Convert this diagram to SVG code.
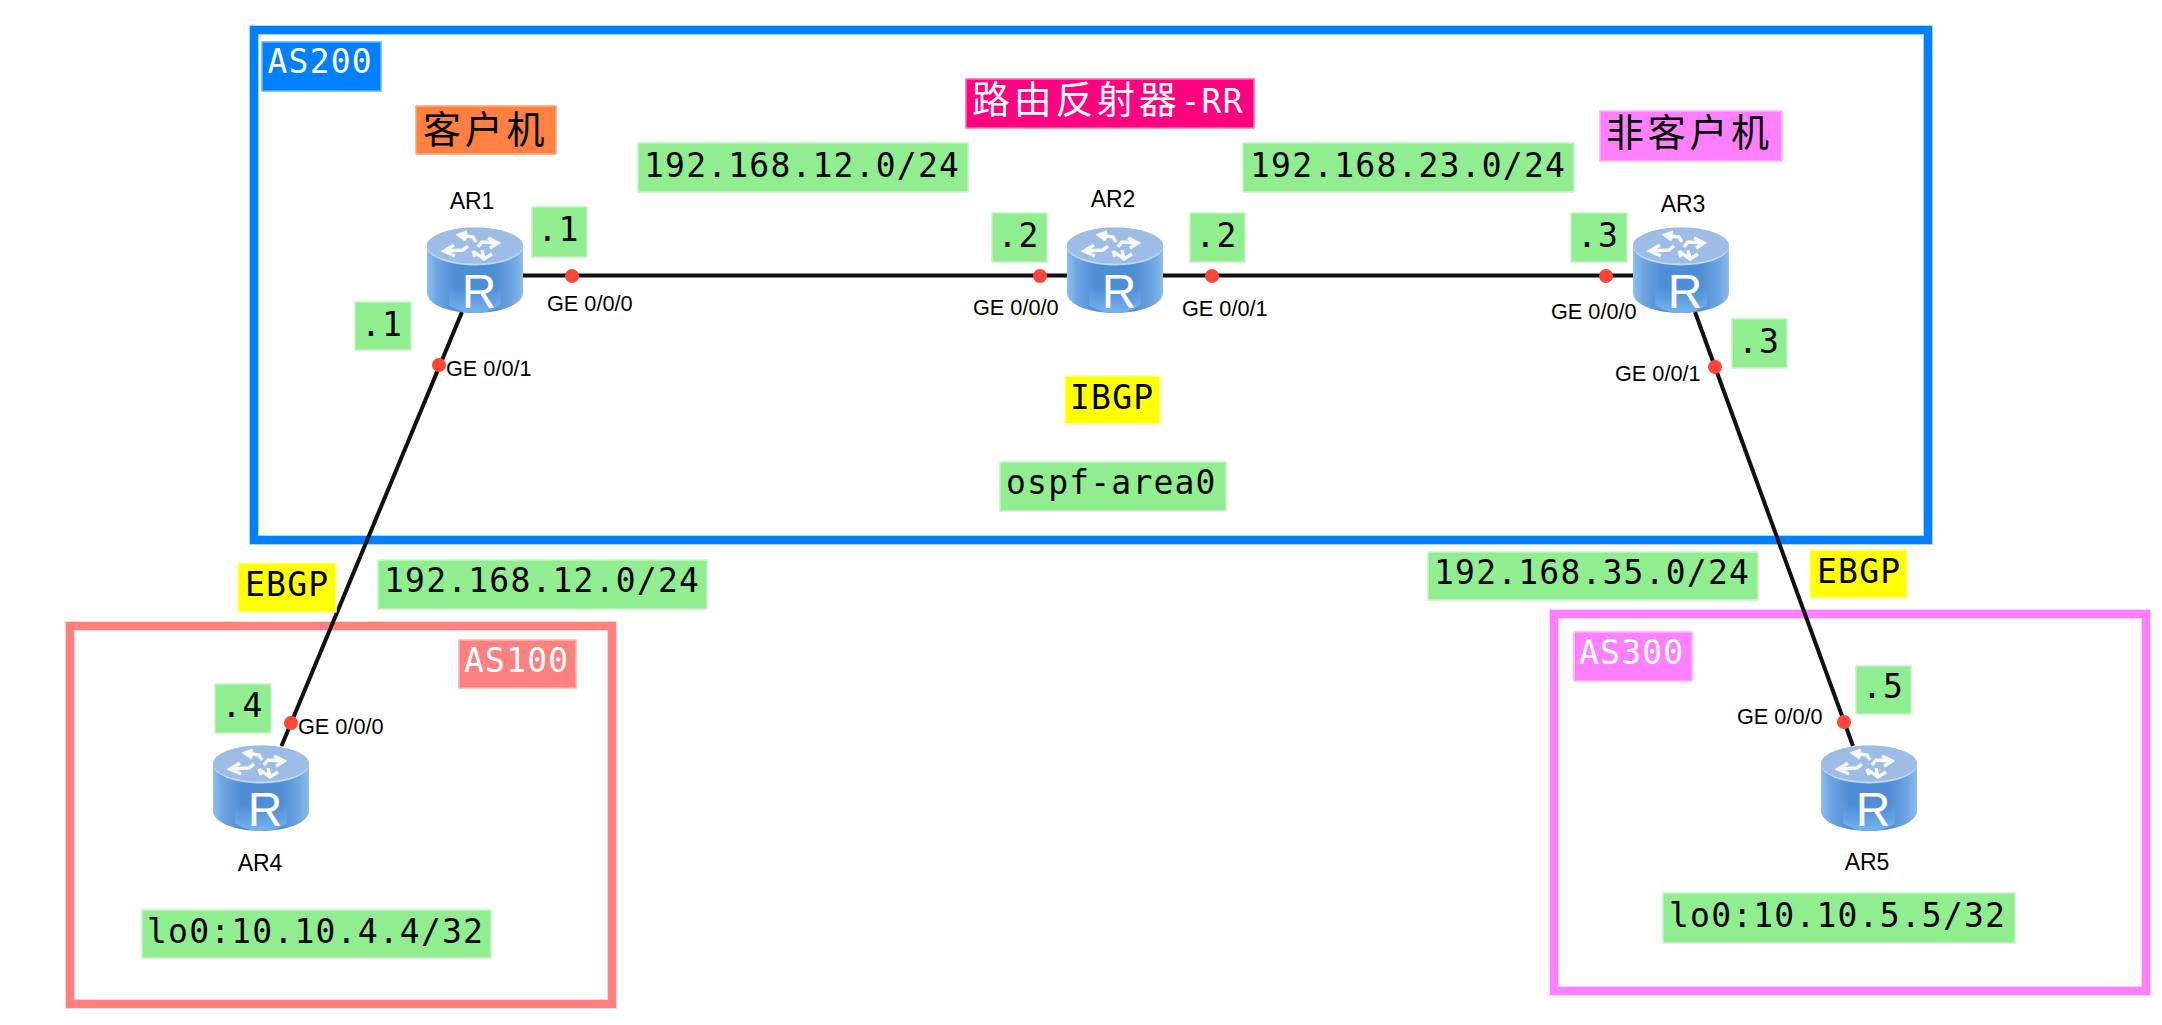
<svg xmlns="http://www.w3.org/2000/svg" width="2162" height="1025" viewBox="0 0 2162 1025">
<style>
.bx{fill:none;stroke-width:8}
.bg{fill:none;stroke-width:10;opacity:.35}
.m{font-family:"DejaVu Sans Mono","Liberation Mono",monospace;font-size:33px;letter-spacing:1.2px;fill:#000}
.c{font-family:"Noto Sans CJK SC","DejaVu Sans",sans-serif;font-size:38px;letter-spacing:3.7px;fill:#000}
.w{fill:#fff}
.g{fill:#90EE90;stroke:#c4f5c4;stroke-width:1.5}
.y{fill:#FFFF00;stroke:#ffff99;stroke-width:1.5}
.s{font-family:"Liberation Sans",Arial,sans-serif;font-size:21.700px;fill:#000}
.n{font-family:"Liberation Sans",Arial,sans-serif;font-size:23px;fill:#000;text-anchor:middle}
.r{font-family:"Liberation Sans",Arial,sans-serif;font-size:48px;fill:#fff;text-anchor:middle}
.ln{stroke:#111;stroke-width:4;fill:none}
.dot{fill:#FF4438}
.ar{fill:none;stroke:#fff;stroke-width:3.400;stroke-linejoin:miter;opacity:.92}
</style>
<defs>
<linearGradient id="body" x1="0" x2="1" y1="0" y2="0">
<stop offset="0" stop-color="#8fc0ee"/><stop offset=".1" stop-color="#6da6e2"/><stop offset=".3" stop-color="#4f8dd5"/><stop offset=".7" stop-color="#4f8dd5"/><stop offset=".9" stop-color="#6da6e2"/><stop offset="1" stop-color="#8abcec"/>
</linearGradient>
<linearGradient id="base" x1="0" x2="0" y1="0" y2="1">
<stop offset="0" stop-color="#6eaeeb" stop-opacity="0"/><stop offset="1" stop-color="#76b4f0"/>
</linearGradient>
<symbol id="router" width="96" height="86" viewBox="0 0 96 86" overflow="visible">
<path d="M0,19V66C0,77 21,86 48,86S96,77 96,66V19Z" fill="url(#body)"/>
<path d="M22,78C30,84 40,86 48,86S66,84 74,78V60H22Z" fill="url(#base)"/>
<ellipse cx="48" cy="19.500" rx="48" ry="19" fill="#c4d8f2"/>
<ellipse cx="48" cy="18.500" rx="48" ry="18" fill="#9dbce6"/>
<path class="ar" d="M40,5L32,8L39,13M32,8L46,10L49,15"/>
<path class="ar" d="M61,11L71,16L63,21M71,16L55,15L51,20"/>
<path class="ar" d="M27,18L17,24L28,29M17,24L36,23L41,19"/>
<path class="ar" d="M46,24L57,32L65,27M57,32L55,23M46,24L48,30"/>
</symbol>
</defs>
<rect width="2162" height="1025" fill="#fff"/>

<g id="areas">
<g id="area-as200"><rect class="bg" x="254" y="30" width="1674" height="510" stroke="#0080FF"/><rect class="bx" x="254" y="30" width="1674" height="510" stroke="#0080FF"/></g>
<g id="area-as100"><rect class="bg" x="70" y="626" width="542" height="378" stroke="#FF8080"/><rect class="bx" x="70" y="626" width="542" height="378" stroke="#FF8080"/></g>
<g id="area-as300"><rect class="bg" x="1554" y="614" width="592" height="377" stroke="#FF80FF"/><rect class="bx" x="1554" y="614" width="592" height="377" stroke="#FF80FF"/></g>
</g>

<g id="connectors">
<path class="ln" d="M523,275.500H1067"/>
<path class="ln" d="M1163,275.500H1633"/>
<path class="ln" d="M462,312L281.500,746"/>
<path class="ln" d="M1695,312L1853,746"/>
<circle class="dot" cx="572" cy="276" r="7"/>
<circle class="dot" cx="1040" cy="276" r="7"/>
<circle class="dot" cx="1212" cy="276" r="7"/>
<circle class="dot" cx="1606" cy="276" r="7"/>
<circle class="dot" cx="439" cy="365" r="7"/>
<circle class="dot" cx="1715" cy="367" r="7"/>
<circle class="dot" cx="291" cy="723" r="7"/>
<circle class="dot" cx="1844" cy="722" r="7"/>
<text class="s" x="547" y="311">GE 0/0/0</text>
<text class="s" x="446" y="376">GE 0/0/1</text>
<text class="s" x="973" y="315">GE 0/0/0</text>
<text class="s" x="1182" y="316">GE 0/0/1</text>
<text class="s" x="1551" y="319">GE 0/0/0</text>
<text class="s" x="1615" y="381">GE 0/0/1</text>
<text class="s" x="298" y="734">GE 0/0/0</text>
<text class="s" x="1737" y="724">GE 0/0/0</text>
</g>

<g id="AR1"><use href="#router" x="427" y="227" width="96" height="86"/><text class="r" x="479" y="308">R</text><text class="n" x="472" y="209">AR1</text></g>
<g id="AR2"><use href="#router" x="1067" y="227" width="96" height="86"/><text class="r" x="1119" y="308">R</text><text class="n" x="1113" y="207">AR2</text></g>
<g id="AR3"><use href="#router" x="1633" y="227" width="96" height="86"/><text class="r" x="1685" y="308">R</text><text class="n" x="1683" y="212">AR3</text></g>
<g id="AR4"><use href="#router" x="213" y="745" width="96" height="86"/><text class="r" x="265" y="826">R</text><text class="n" x="260" y="871">AR4</text></g>
<g id="AR5"><use href="#router" x="1821" y="745" width="96" height="86"/><text class="r" x="1873" y="826">R</text><text class="n" x="1867" y="870">AR5</text></g>

<g id="labels">
<g id="l-as200"><rect x="262" y="42" width="119" height="49" fill="#0080FF" stroke="#66b2ff" stroke-width="1.5"/><text class="m w" x="267.500" y="73">AS200</text></g>
<g id="l-client"><rect x="416" y="106" width="140" height="48" fill="#FF8040" stroke="#ffa477" stroke-width="1.5"/><text class="c" x="423" y="143">客户机</text></g>
<g id="l-rr"><rect x="966" y="79" width="288" height="49" fill="#FF007F" stroke="#ff66b2" stroke-width="1.5"/><text class="c w" x="972" y="113">路由反射器<tspan class="m w">-RR</tspan></text></g>
<g id="l-nonclient"><rect x="1600" y="111" width="182" height="50" fill="#FF80FF" stroke="#ffb3ff" stroke-width="1.5"/><text class="c" x="1606" y="146">非客户机</text></g>
<g id="l-net12"><rect class="g" x="638" y="143" width="330" height="49"/><text class="m" x="644" y="177">192.168.12.0/24</text></g>
<g id="l-net23"><rect class="g" x="1243" y="143" width="331" height="49"/><text class="m" x="1250" y="177">192.168.23.0/24</text></g>
<g id="l-ar1-1"><rect class="g" x="532" y="207" width="55" height="50"/><text class="m" x="537.500" y="241">.1</text></g>
<g id="l-ar1-2"><rect class="g" x="355" y="302" width="56" height="48"/><text class="m" x="361" y="336">.1</text></g>
<g id="l-ar2-1"><rect class="g" x="992" y="213" width="55" height="49"/><text class="m" x="997.500" y="247">.2</text></g>
<g id="l-ar2-2"><rect class="g" x="1190" y="213" width="55" height="49"/><text class="m" x="1195.500" y="247">.2</text></g>
<g id="l-ar3-1"><rect class="g" x="1571" y="213" width="56" height="49"/><text class="m" x="1577" y="247">.3</text></g>
<g id="l-ar3-2"><rect class="g" x="1732" y="319" width="55" height="49"/><text class="m" x="1738" y="353">.3</text></g>
<g id="l-ibgp"><rect class="y" x="1065" y="376" width="95" height="48"/><text class="m" x="1070" y="409">IBGP</text></g>
<g id="l-ospf"><rect class="g" x="1000" y="462" width="226" height="49"/><text class="m" x="1006" y="494">ospf-area0</text></g>
<g id="l-ebgp1"><rect class="y" x="238" y="563" width="98" height="49"/><text class="m" x="245" y="596">EBGP</text></g>
<g id="l-net12b"><rect class="g" x="378" y="560" width="329" height="49"/><text class="m" x="384" y="592">192.168.12.0/24</text></g>
<g id="l-net35"><rect class="g" x="1428" y="552" width="330" height="48"/><text class="m" x="1434" y="584">192.168.35.0/24</text></g>
<g id="l-ebgp2"><rect class="y" x="1810" y="550" width="97" height="48"/><text class="m" x="1817" y="583">EBGP</text></g>
<g id="l-as100"><rect x="459" y="640" width="117" height="48" fill="#FF8080" stroke="#ffb3b3" stroke-width="1.5"/><text class="m w" x="464" y="672">AS100</text></g>
<g id="l-as300"><rect x="1574" y="632" width="118" height="49" fill="#FF80FF" stroke="#ffb3ff" stroke-width="1.5"/><text class="m w" x="1579" y="664">AS300</text></g>
<g id="l-ar4"><rect class="g" x="215" y="684" width="56" height="49"/><text class="m" x="221.500" y="717">.4</text></g>
<g id="l-ar5"><rect class="g" x="1856" y="666" width="55" height="48"/><text class="m" x="1862" y="698">.5</text></g>
<g id="l-lo4"><rect class="g" x="142" y="910" width="349" height="48"/><text class="m" x="147" y="943">lo0:10.10.4.4/32</text></g>
<g id="l-lo5"><rect class="g" x="1663" y="893" width="352" height="50"/><text class="m" x="1669" y="927">lo0:10.10.5.5/32</text></g>
</g>
</svg>
